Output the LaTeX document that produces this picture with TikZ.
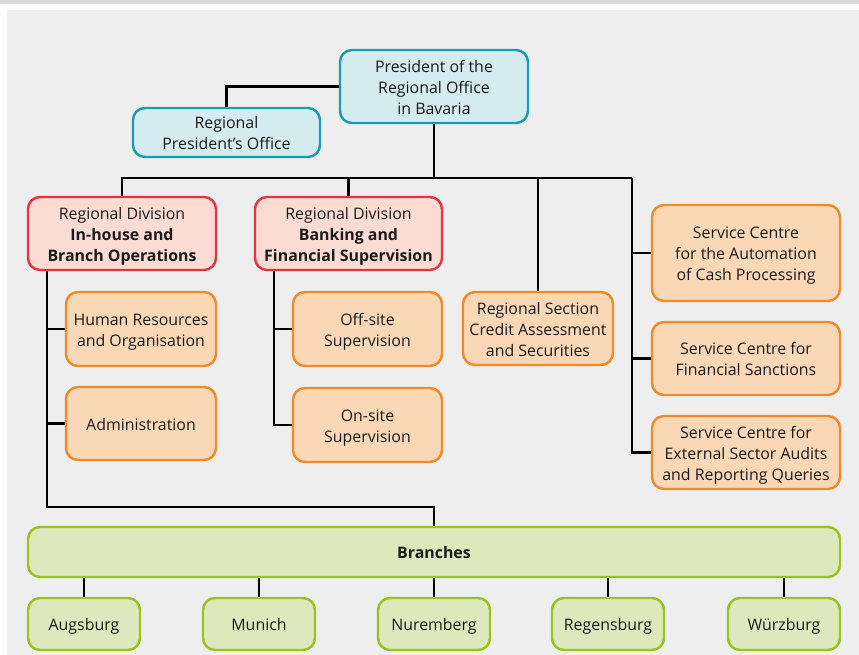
\documentclass[tikz,border=0pt]{standalone}
\usepackage{fontspec}
\setmainfont{Open Sans}
\definecolor{bgband}{HTML}{D9D9D9}
\definecolor{bglight}{HTML}{EEEEEE}
\definecolor{bluefill}{HTML}{D4EBF0}
\definecolor{blueline}{HTML}{1B9BAB}
\definecolor{redfill}{HTML}{FADCD3}
\definecolor{redline}{HTML}{E5343F}
\definecolor{orfill}{HTML}{FBD8B5}
\definecolor{orline}{HTML}{F0892A}
\definecolor{grfill}{HTML}{DDE8BC}
\definecolor{grline}{HTML}{9BC31E}
\definecolor{txt}{HTML}{1A1A1A}
\pgfdeclarelayer{bglayer}
\pgfdeclarelayer{connlayer}
\pgfsetlayers{bglayer,connlayer,main}
\begin{document}
\begin{tikzpicture}[x=1pt,y=-1pt,
  box/.style={rounded corners=12pt,line width=2.4pt,align=center,inner sep=0pt,
    text=txt,font=\fontsize{15.9}{21}\selectfont,text depth=0pt},
  lone/.style={text height=13.4pt},
  ltwo/.style={text height=34.4pt},
  lthree/.style={text height=55.4pt},
  bluebox/.style={box,draw=blueline,fill=bluefill},
  redbox/.style={box,draw=redline,fill=redfill},
  orbox/.style={box,draw=orline,fill=orfill},
  grbox/.style={box,draw=grline,fill=grfill},
  conn/.style={line width=2.4pt,black}]
\useasboundingbox (0,0) rectangle (859,655);
\begin{pgfonlayer}{bglayer}
\fill[white] (0,0) rectangle (859,655);
\fill[bgband] (0,0) rectangle (859,4);
\fill[bglight] (7,10) rectangle (859,655);
\end{pgfonlayer}

% top
\node[bluebox,lthree,minimum width=188pt,minimum height=73pt] (pres) at (434,86.5)
  {President of the\\Regional Office\\in Bavaria};
\node[bluebox,ltwo,minimum width=187pt,minimum height=49pt] (rpo) at (226.5,132.5)
  {Regional\\President’s Office};

% divisions
\node[redbox,lthree,minimum width=188pt,minimum height=73pt] (div1) at (122,233.5)
  {Regional Division\\\textbf{In-house and}\\\textbf{Branch Operations}};
\node[redbox,lthree,minimum width=187pt,minimum height=73pt] (div2) at (348.5,233.5)
  {Regional Division\\\textbf{Banking and}\\\textbf{Financial Supervision}};

\node[orbox,ltwo,minimum width=150pt,minimum height=74pt] (hr) at (141,329)
  {Human Resources\\and Organisation};
\node[orbox,lone,minimum width=150pt,minimum height=73pt] (adm) at (141,423.5)
  {Administration};
\node[orbox,ltwo,minimum width=149pt,minimum height=74pt] (off) at (367.5,329)
  {Off-site\\Supervision};
\node[orbox,ltwo,minimum width=149pt,minimum height=74pt] (on) at (367.5,425)
  {On-site\\Supervision};
\node[orbox,lthree,minimum width=150pt,minimum height=73pt] (rs) at (538,328.5)
  {Regional Section\\Credit Assessment\\and Securities};

\node[orbox,lthree,minimum width=188pt,minimum height=96pt] (sc1) at (746,253)
  {Service Centre\\for the Automation\\of Cash Processing};
\node[orbox,ltwo,minimum width=188pt,minimum height=73pt] (sc2) at (746,358.5)
  {Service Centre for\\Financial Sanctions};
\node[orbox,lthree,minimum width=188pt,minimum height=73pt] (sc3) at (746,452.5)
  {Service Centre for\\External Sector Audits\\and Reporting Queries};

% branches
\node[grbox,lone,minimum width=812pt,minimum height=50pt] (br) at (434,552)
  {\textbf{Branches}};
\node[grbox,lone,minimum width=112pt,minimum height=52pt] (b1) at (84,624) {Augsburg};
\node[grbox,lone,minimum width=112pt,minimum height=52pt] (b2) at (259,624) {Munich};
\node[grbox,lone,minimum width=112pt,minimum height=52pt] (b3) at (434,624) {Nuremberg};
\node[grbox,lone,minimum width=112pt,minimum height=52pt] (b4) at (608,624) {Regensburg};
\node[grbox,lone,minimum width=112pt,minimum height=52pt] (b5) at (784,624) {Würzburg};

% connector helpers
\coordinate (busR) at (632,178);
\coordinate (sp1) at (47,507);
\coordinate (sp2) at (274,270);

\begin{pgfonlayer}{connlayer}
\draw[conn] (pres.west) -| (rpo.north);
\draw[conn] (pres.south) -- (pres.south |- busR);
\draw[conn] (div1.north) |- (busR);
\draw[conn] (div2.north) -- (div2.north |- busR);
\draw[conn] (rs.north) -- (rs.north |- busR);
\draw[conn] (busR) |- (sc3.west);
\draw[conn] (sc1.west) -- (sc1.west -| busR);
\draw[conn] (sc2.west) -- (sc2.west -| busR);

\draw[conn] (div1.south -| sp1) -- (sp1) -| (br.north);
\draw[conn] (hr.west) -- (hr.west -| sp1);
\draw[conn] (adm.west) -- (adm.west -| sp1);

\draw[conn] (div2.south -| sp2) |- (on.west);
\draw[conn] (off.west) -- (off.west -| sp2);

\draw[conn] (b1.north) -- (b1.north |- br.south);
\draw[conn] (b2.north) -- (b2.north |- br.south);
\draw[conn] (b3.north) -- (b3.north |- br.south);
\draw[conn] (b4.north) -- (b4.north |- br.south);
\draw[conn] (b5.north) -- (b5.north |- br.south);
\end{pgfonlayer}
\end{tikzpicture}
\end{document}
